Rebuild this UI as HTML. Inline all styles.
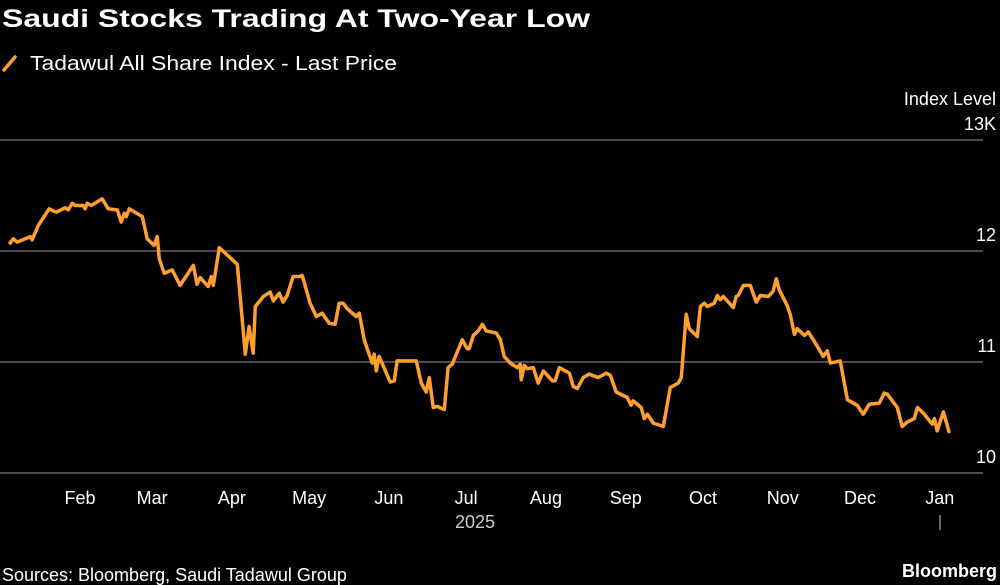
<!DOCTYPE html>
<html><head><meta charset="utf-8"><style>
html,body{margin:0;padding:0;background:#000;}
svg{display:block;font-family:"Liberation Sans","DejaVu Sans",sans-serif;}
</style></head><body>
<svg id="chart" width="1000" height="585" viewBox="0 0 1000 585">
<rect width="1000" height="585" fill="#000"/>
<text x="2" y="27" fill="#fff" font-size="25" font-weight="bold" textLength="588" lengthAdjust="spacingAndGlyphs">Saudi Stocks Trading At Two-Year Low</text>
<line x1="4" y1="70" x2="15" y2="57" stroke="#ff9f2e" stroke-width="3.5" stroke-linecap="round"/>
<text x="30" y="70" fill="#fff" font-size="20" textLength="367" lengthAdjust="spacingAndGlyphs">Tadawul All Share Index - Last Price</text>
<text x="996" y="105" fill="#fff" font-size="18" text-anchor="end">Index Level</text>
<g id="grid"></g><g id="yticks"></g><g id="xticks"></g>
<text x="475" y="528" fill="#ccc" font-size="18" text-anchor="middle">2025</text>
<line x1="940" y1="515" x2="940" y2="530" stroke="#ccc" stroke-width="1"/>
<path id="series" fill="none" stroke="#ff9f2e" stroke-width="3.5" stroke-linejoin="round"/>
<text x="2" y="581" fill="#fff" font-size="18">Sources: Bloomberg, Saudi Tadawul Group</text>
<text x="997" y="577" fill="#fff" font-size="18" font-weight="bold" text-anchor="end">Bloomberg</text>
</svg>
<script>
const days=[3.5,5.1,6.6,11.7,12.4,14.8,19.0,21.8,25.3,26.4,28.0,29.1,32.2,33.0,33.8,35.4,39.6,42.0,45.5,47.0,48.2,49.0,50.1,55.2,57.1,59.8,61.0,61.8,63.7,66.8,68.8,69.9,75.0,76.5,77.7,80.8,82.0,82.8,85.1,92.1,95.2,96.7,98.3,99.1,102.2,104.9,106.1,108.4,109.9,111.5,113.8,116.2,117.3,120.4,122.8,125.1,127.8,130.1,131.7,133.3,134.8,138.3,139.5,141.4,144.5,145.3,146.1,147.2,151.5,153.1,154.2,161.6,163.6,165.5,166.7,168.2,169.8,172.5,174.0,175.6,179.5,181.4,182.2,183.8,185.7,187.3,188.8,192.7,194.3,195.8,198.1,200.9,202.0,202.4,203.6,204.7,207.1,209.0,211.0,214.5,215.6,217.2,221.1,222.6,224.2,226.5,228.8,232.3,235.4,237.0,239.3,243.6,245.1,245.9,249.0,250.2,251.4,253.7,257.6,260.3,263.4,264.6,266.5,267.7,270.8,272.0,273.5,274.7,277.4,278.6,279.7,280.9,284.8,285.9,286.7,288.7,291.4,293.7,295.3,298.4,300.3,301.5,302.6,305.7,306.9,308.5,309.6,312.4,313.9,315.9,319.7,321.3,322.5,326.3,329.1,332.9,335.3,337.6,341.5,343.4,344.6,348.5,350.4,352.4,355.1,356.3,358.6,362.1,362.9,364.0,366.4,368.7];
const values=[12.06,12.11,12.08,12.13,12.10,12.23,12.38,12.35,12.39,12.37,12.43,12.41,12.41,12.38,12.43,12.41,12.47,12.38,12.37,12.26,12.34,12.31,12.38,12.31,12.11,12.05,12.13,11.93,11.80,11.83,11.74,11.69,11.87,11.70,11.76,11.68,11.77,11.69,12.03,11.88,11.07,11.32,11.08,11.50,11.59,11.63,11.55,11.62,11.54,11.60,11.77,11.77,11.78,11.53,11.41,11.44,11.35,11.34,11.53,11.53,11.48,11.41,11.44,11.20,10.99,11.07,10.92,11.05,10.82,10.83,11.01,11.01,10.81,10.73,10.86,10.59,10.60,10.57,10.95,10.98,11.20,11.12,11.12,11.24,11.28,11.34,11.28,11.26,11.20,11.05,10.99,10.95,10.98,10.84,10.97,10.94,10.95,10.81,10.92,10.83,10.83,10.95,10.90,10.78,10.76,10.86,10.89,10.86,10.90,10.88,10.73,10.68,10.61,10.65,10.59,10.49,10.53,10.45,10.42,10.77,10.81,10.86,11.43,11.30,11.23,11.50,11.53,11.50,11.53,11.60,11.56,11.59,11.49,11.59,11.60,11.69,11.69,11.54,11.60,11.59,11.64,11.75,11.65,11.51,11.43,11.25,11.30,11.24,11.27,11.20,11.05,11.10,10.99,11.01,10.66,10.61,10.53,10.62,10.63,10.72,10.71,10.59,10.42,10.46,10.49,10.59,10.54,10.44,10.49,10.38,10.55,10.36];
const yTickValues=[10,11,12,13];
const yTickLabels=["10","11","12","13K"];
const monthLabels=["Feb","Mar","Apr","May","Jun","Jul","Aug","Sep","Oct","Nov","Dec","Jan"];
const monthDays=[31,59,90,120,151,181,212,243,273,304,334,365];
const NS="http://www.w3.org/2000/svg";
function xs(d){return 80+(d-31)*(860-80)/(334-31);}
function ys(v){return 473-(v-10)*111;}
const grid=document.getElementById('grid'),yt=document.getElementById('yticks'),xt=document.getElementById('xticks');
yTickValues.forEach((v,i)=>{
  const l=document.createElementNS(NS,'line');
  l.setAttribute('x1',0);l.setAttribute('x2',983);l.setAttribute('y1',ys(v));l.setAttribute('y2',ys(v));
  l.setAttribute('stroke','#666');l.setAttribute('stroke-width','1.5');
  
  
  grid.appendChild(l);
  const t=document.createElementNS(NS,'text');
  t.setAttribute('x',996);t.setAttribute('y',ys(v)-10);t.setAttribute('fill','#fff');t.setAttribute('font-size','18');t.setAttribute('text-anchor','end');
  t.textContent=yTickLabels[i];
  
  
  yt.appendChild(t);
});
monthLabels.forEach((m,i)=>{
  const t=document.createElementNS(NS,'text');
  t.setAttribute('x',xs(monthDays[i]));t.setAttribute('y',504);t.setAttribute('fill','#fff');t.setAttribute('font-size','18');t.setAttribute('text-anchor','middle');
  t.textContent=m;
  
  
  xt.appendChild(t);
});
document.getElementById('series').setAttribute('d',days.map((d,i)=>(i?'L':'M')+xs(d).toFixed(1)+' '+ys(values[i]).toFixed(1)).join(' '));
</script>
</body></html>
